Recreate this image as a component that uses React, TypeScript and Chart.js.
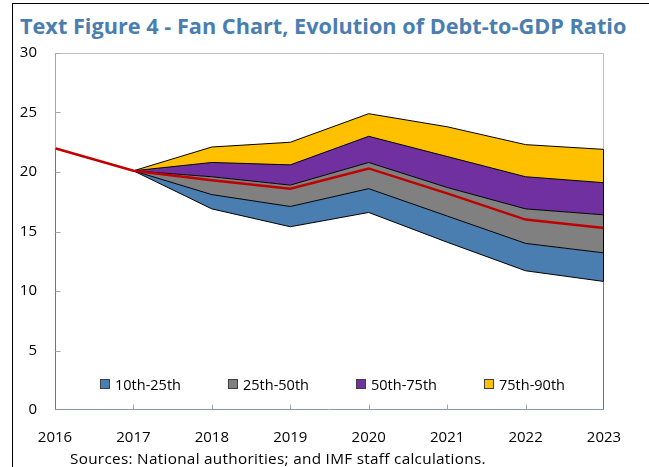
import React, { useEffect, useRef } from "react";
import { Chart, registerables } from "chart.js";

Chart.register(...registerables);

const years = ["2016", "2017", "2018", "2019", "2020", "2021", "2022", "2023"];
const p10 = [null, 20.1, 16.9, 15.4, 16.6, 14.1, 11.7, 10.8];
const p25 = [null, 20.1, 18.1, 17.1, 18.6, 16.3, 14.0, 13.2];
const p50 = [null, 20.1, 19.6, 18.9, 20.8, 18.7, 16.9, 16.4];
const p75 = [null, 20.1, 20.8, 20.6, 23.0, 21.3, 19.6, 19.1];
const p90 = [null, 20.1, 22.1, 22.5, 24.9, 23.8, 22.3, 21.9];
const baseline = [22.0, 20.1, 19.3, 18.6, 20.3, 18.2, 16.0, 15.3];

const bandLabels = ["10th-25th", "25th-50th", "50th-75th", "75th-90th"];
const bandColors = ["#4a7eb0", "#808080", "#7030a0", "#ffc000"];
const titleText = "Text Figure 4 - Fan Chart, Evolution of Debt-to-GDP Ratio";
const sourceText = "Sources: National authorities; and IMF staff calculations.";

const FONT = "'Open Sans', 'Noto Sans', sans-serif";

const framePlugin = {
  id: "frame",
  afterDatasetsDraw(chart: any) {
    const { ctx, chartArea } = chart;
    const ys = chart.scales.y;
    const xs = chart.scales.x;
    const L = Math.round(chartArea.left) + 0.5;
    const R = Math.round(chartArea.right) - 0.5;
    const T = Math.round(chartArea.top) + 0.5;
    const B = Math.round(chartArea.bottom) - 0.5;
    const line = (x1: number, y1: number, x2: number, y2: number, c: string, w = 1) => {
      ctx.save();
      ctx.strokeStyle = c;
      ctx.lineWidth = w;
      ctx.beginPath();
      ctx.moveTo(x1, y1);
      ctx.lineTo(x2, y2);
      ctx.stroke();
      ctx.restore();
    };
    const last = years.length - 1;
    const yTop = ys.getPixelForValue(p90[last] as number);
    const yBot = ys.getPixelForValue(p10[last] as number);
    const yStart = ys.getPixelForValue(baseline[0]);
    line(L, T, R, T, "#bfbfbf");
    line(R, T, R, yTop, "#bfbfbf");
    line(R, yTop, R, yBot, "#000000");
    line(R, yBot, R, B, "#4a7eb0");
    line(L, T, L, yStart, "#a6a6a6");
    line(L, yStart, L, B, "#4a7eb0");
    for (let v = 5; v <= 30; v += 5) {
      const yy = Math.round(ys.getPixelForValue(v)) + 0.5;
      line(L, yy, L + 5, yy, "#a6a6a6");
    }
    line(L - 0.5, B, R + 0.5, B, "#8497b0");
    for (let i = 1; i < years.length - 1; i++) {
      const xx = Math.round(xs.getPixelForValue(i)) + 0.5;
      line(xx, B, xx, B - 5, "#a6a6a6");
    }
  },
};

export default function App() {
  const ref = useRef<HTMLCanvasElement>(null);

  useEffect(() => {
    if (!ref.current) return;
    const mk = (data: any[], fill: any, color: string) => ({
      data,
      fill,
      backgroundColor: color,
      borderColor: "#000000",
      borderWidth: 1,
      pointRadius: 0,
      tension: 0,
    });
    const chart = new Chart(ref.current, {
      type: "line",
      data: {
        labels: years,
        datasets: [
          {
            label: "Baseline",
            data: baseline,
            fill: false,
            borderColor: "#c00000",
            borderWidth: 2.5,
            pointRadius: 0,
            tension: 0,
          },
          { label: "p10", ...mk(p10, false, "transparent") },
          { label: bandLabels[0], ...mk(p25, 1, bandColors[0]) },
          { label: bandLabels[1], ...mk(p50, 2, bandColors[1]) },
          { label: bandLabels[2], ...mk(p75, 3, bandColors[2]) },
          { label: bandLabels[3], ...mk(p90, 4, bandColors[3]) },
        ] as any,
      },
      options: {
        animation: false,
        responsive: false,
        layout: { padding: { left: 0, top: 53, right: 45, bottom: 0 } },
        plugins: {
          legend: { display: false },
          tooltip: { enabled: false },
          title: { display: false },
        },
        scales: {
          x: {
            type: "category",
            offset: false,
            grid: { display: false, drawTicks: false },
            border: { display: false },
            ticks: {
              padding: 19,
              color: "#000000",
              font: { family: FONT, size: 15 },
              maxRotation: 0,
              autoSkip: false,
            },
            afterFit: (s: any) => {
              s.height = 57;
            },
          },
          y: {
            min: 0,
            max: 30,
            grid: { display: false, drawTicks: false },
            border: { display: false },
            ticks: {
              stepSize: 5,
              padding: 18,
              color: "#000000",
              font: { family: FONT, size: 15 },
            },
            afterFit: (s: any) => {
              s.width = 55;
            },
          },
        },
      } as any,
      plugins: [framePlugin],
    });
    return () => chart.destroy();
  }, []);

  return (
    <div
      style={{
        position: "absolute",
        left: 0,
        top: 0,
        width: 649,
        height: 467,
        overflow: "hidden",
        background: "#ffffff",
        fontFamily: FONT,
      }}
    >
      <div style={{ position: "absolute", left: 12, top: 3, width: 1, height: 464, background: "#000" }} />
      <div style={{ position: "absolute", left: 12, top: 3, width: 637, height: 1, background: "#000" }} />
      <div
        style={{
          position: "absolute",
          left: 20,
          top: 9,
          fontSize: 21.7,
          fontWeight: 700,
          color: "#4a7eb0",
          whiteSpace: "nowrap",
          lineHeight: "34px",
        }}
      >
        {titleText}
      </div>
      <canvas ref={ref} width={649} height={467} style={{ position: "absolute", left: 0, top: 0 }} />
      {bandLabels.map((lab, i) => (
        <div
          key={lab}
          style={{
            position: "absolute",
            left: 100 + i * 128,
            top: 374,
            height: 20,
            display: "flex",
            alignItems: "center",
            whiteSpace: "nowrap",
            fontSize: 14.5,
            color: "#000",
          }}
        >
          <span
            style={{
              display: "inline-block",
              width: 8,
              height: 8,
              background: bandColors[i],
              border: "1px solid #404040",
              marginRight: 5,
            }}
          />
          {lab}
        </div>
      ))}
      <div
        style={{
          position: "absolute",
          left: 70,
          top: 448,
          fontSize: 15.3,
          letterSpacing: 0.3,
          lineHeight: "20px",
          color: "#000",
          whiteSpace: "nowrap",
        }}
      >
        {sourceText}
      </div>
    </div>
  );
}
